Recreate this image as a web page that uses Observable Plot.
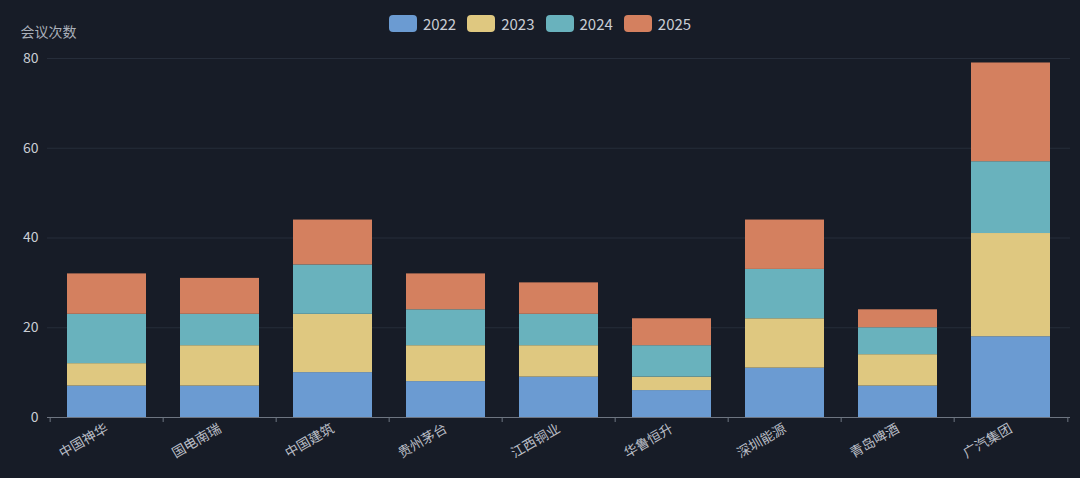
<!DOCTYPE html>
<html>
<head>
<meta charset="utf-8">
<script src="https://cdn.jsdelivr.net/npm/d3@7"></script>
<script src="https://cdn.jsdelivr.net/npm/@observablehq/plot@0.6"></script>
<style>
  html, body { margin: 0; padding: 0; background: #171c27; }
  #wrap { position: relative; width: 1080px; height: 478px; background: #171c27; font-family: "Noto Sans CJK SC", "Noto Sans", sans-serif; }
  #legend { position: absolute; top: 14px; left: 0; width: 1080px; display: flex; justify-content: center; gap: 11px; color: #c9cdd4; font-size: 15px; }
  .item { display: flex; align-items: center; gap: 6px; height: 18px; }
  .sw { width: 28px; height: 17px; border-radius: 4px; }
</style>
</head>
<body>
<div id="wrap"><div id="legend"></div></div>
<script>
const companies = ["中国神华","国电南瑞","中国建筑","贵州茅台","江西铜业","华鲁恒升","深圳能源","青岛啤酒","广汽集团"];
const years = ["2022","2023","2024","2025"];
const v2022 = [7,7,10,8,9,6,11,7,18];
const v2023 = [5,9,13,8,7,3,11,7,23];
const v2024 = [11,7,11,8,7,7,11,6,16];
const v2025 = [9,8,10,8,7,6,11,4,22];
const yTicks = [0,20,40,60,80];
const colors = ["#6b9bd2","#dfc880","#69b2bd","#d4805f"];
const yLabel = "会议次数";

const series = [v2022, v2023, v2024, v2025];
const data = [];
years.forEach((yr, j) => companies.forEach((c, i) => data.push({company: c, year: yr, value: series[j][i]})));

const W = 1080, H = 478, mL = 47, mR = 10, mT = 58, mB = 61;
const step = (W - mL - mR) / companies.length;

const chart = Plot.plot({
  width: W, height: H,
  marginLeft: mL, marginRight: mR, marginTop: mT, marginBottom: mB,
  style: {background: "transparent", fontFamily: "'Noto Sans CJK SC', 'Noto Sans', sans-serif"},
  x: {domain: companies, paddingInner: 0.3, paddingOuter: 0.15},
  y: {domain: [0, 80]},
  color: {domain: years, range: colors},
  marks: [
    Plot.ruleY(yTicks.filter(d => d > 0), {stroke: "#262d3a", strokeWidth: 1.2}),
    Plot.barY(data, {x: "company", y: "value", fill: "year"}),
    Plot.ruleY([0], {stroke: "#6e7581", strokeWidth: 1.2}),
    Plot.tickX(companies, {x: d => d, dx: -step / 2, stroke: "#6e7581", insetTop: H - mT - mB, insetBottom: -5}),
    Plot.tickX(companies.slice(-1), {x: d => d, dx: step / 2, stroke: "#6e7581", insetTop: H - mT - mB, insetBottom: -5}),
    Plot.axisY({ticks: yTicks, tickSize: 0, tickPadding: 9, label: null, fontSize: 14, color: "#c9cdd4"}),
    Plot.axisX({tickSize: 0, tickRotate: -30, tickPadding: 10, label: null, fontSize: 13.5, color: "#b9bdc5"}),
    Plot.text([yLabel], {text: d => d, frameAnchor: "top-left", dx: -27, dy: -31, textAnchor: "start", fill: "#aab0ba", fontSize: 14})
  ]
});
document.getElementById("wrap").appendChild(chart);
chart.style.position = "absolute"; chart.style.left = "0"; chart.style.top = "0";

const lg = document.getElementById("legend");
years.forEach((yr, j) => {
  const it = document.createElement("div"); it.className = "item";
  const sw = document.createElement("div"); sw.className = "sw"; sw.style.background = colors[j];
  const t = document.createElement("span"); t.textContent = yr;
  it.appendChild(sw); it.appendChild(t); lg.appendChild(it);
});
</script>
</body>
</html>
